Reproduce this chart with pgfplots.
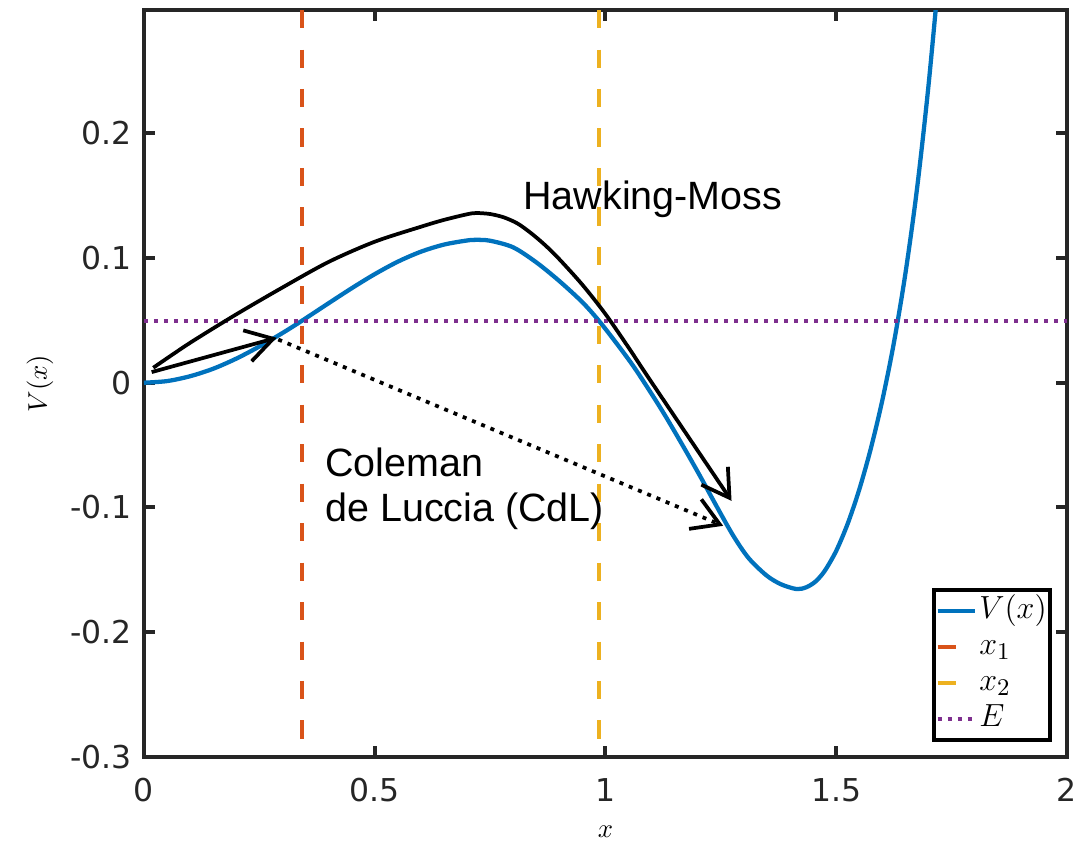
\documentclass[border=0pt]{standalone}
\usepackage{pgfplots}
\pgfplotsset{compat=1.18}
\usepackage{fontspec}
\newfontfamily\dejavu{DejaVu Sans}
\newfontfamily\arial{Liberation Sans}
\usetikzlibrary{arrows.meta}
\definecolor{mblue}{rgb}{0,0.447,0.741}
\definecolor{morange}{rgb}{0.85,0.325,0.098}
\definecolor{myellow}{rgb}{0.929,0.694,0.125}
\definecolor{mpurple}{rgb}{0.494,0.184,0.556}
\definecolor{axgray}{rgb}{0.15,0.15,0.15}
\begin{document}
\begin{tikzpicture}
\path[use as bounding box] (-54pt,-32.25pt) rectangle (351.375pt,283.875pt);
\begin{axis}[
  at={(0,0)}, anchor=south west,
  scale only axis, width=346.1pt, height=280.1pt,
  xmin=0, xmax=2, ymin=-0.3, ymax=0.2987,
  xtick={0,0.5,1,1.5,2},
  xticklabels={0,0.5,1,1.5,2},
  ytick={-0.3,-0.2,-0.1,0,0.1,0.2},
  yticklabels={-0.3,-0.2,-0.1,0,0.1,0.2},
  tick label style={font=\dejavu\fontsize{11.8}{14}\selectfont, text=axgray},
  xticklabel style={anchor=north, inner sep=0pt, yshift=-7.9pt},
  yticklabel style={anchor=east, inner sep=0pt, xshift=-4.5pt},
  axis line style={line width=1.5pt, draw=axgray},
  tick style={line width=1.5pt, draw=axgray},
  major tick length=4pt,
  tick align=inside,
  xlabel={$x$}, ylabel={$V(x)$},
  label style={font=\fontsize{13.8}{15}\selectfont, text=axgray},
  every axis x label/.style={at={(rel axis cs:0.5,0)}, anchor=center, yshift=-28pt},
  every axis y label/.style={at={(rel axis cs:0,0.5)}, xshift=-39pt, rotate=90, anchor=center},
  legend style={at={(0.984,0.02)}, anchor=south east, draw=black, line width=1.5pt, fill=white,
    font=\fontsize{12.3}{14}\selectfont, inner xsep=0.5pt, inner ysep=1.2pt, row sep=0pt,
    nodes={inner xsep=0.8pt, inner ysep=0.5pt, text height=9.2pt, text depth=3.3pt, anchor=base west}},
  legend cell align=left,
  legend image code/.code={\draw[#1] (0pt,3pt) -- (14pt,3pt);},
]
\addplot[mblue, line width=1.6pt, smooth] coordinates {
(0,0) (0.05,0.0013) (0.1,0.0052) (0.15,0.0112) (0.2,0.0193) (0.25,0.0290)
(0.3,0.0398) (0.3416,0.0495) (0.4,0.0637) (0.45,0.0757) (0.5,0.0870)
(0.55,0.0970) (0.6,0.1050) (0.65,0.1107) (0.7,0.1140) (0.72,0.1145)
(0.75,0.1138) (0.8,0.1085) (0.85,0.0965) (0.9,0.0815) (0.95,0.0645)
(0.985,0.0500) (1.02,0.0335) (1.06,0.0135) (1.10,-0.0090) (1.132,-0.0280)
(1.17,-0.0520) (1.2045,-0.0745) (1.24,-0.0985) (1.2767,-0.1225) (1.31,-0.1405)
(1.349,-0.1545) (1.38,-0.1615) (1.414,-0.1654) (1.435,-0.1640) (1.455,-0.1594)
(1.475,-0.1509) (1.5,-0.1348) (1.525,-0.1129) (1.55,-0.0856) (1.575,-0.0528)
(1.6,-0.0140) (1.625,0.0320) (1.65,0.0876) (1.675,0.1551) (1.7,0.2382) (1.725,0.337)};
\addlegendentry{$V(x)$}
\addplot[morange, line width=1.5pt, dash pattern=on 6.8pt off 8pt] coordinates {(0.3416,0.2987) (0.3416,-0.3)};
\addlegendentry{$x_1$}
\addplot[myellow, line width=1.5pt, dash pattern=on 6.8pt off 8pt] coordinates {(0.985,0.2987) (0.985,-0.3)};
\addlegendentry{$x_2$}
\addplot[mpurple, line width=1.5pt, dash pattern=on 1.5pt off 2.25pt] coordinates {(0,0.0493) (2,0.0493)};
\addlegendentry{$E$}
\addplot[black, line width=1.4pt, smooth, -{Straight Barb[length=10pt,width=12pt]}, forget plot] coordinates {
(0.0201,0.0120) (0.1,0.0320) (0.2,0.0548) (0.3,0.0763) (0.4,0.0968)
(0.5,0.1130) (0.6,0.1250) (0.65,0.1305) (0.7,0.1350) (0.72,0.1360)
(0.75,0.1352) (0.78,0.1325) (0.81,0.1275) (0.84,0.1195) (0.87,0.1100)
(0.9,0.0990) (0.95,0.0785) (1.0,0.0550) (1.05,0.0282) (1.1,0.0003)
(1.2732,-0.0947)};
\addplot[black, line width=1.4pt, -{Straight Barb[length=10pt,width=12pt]}, forget plot] coordinates {(0.0166,0.0085) (0.2875,0.036)};
\addplot[black, line width=1.4pt, dash pattern=on 1.5pt off 2.25pt, -{Straight Barb[length=10pt,width=12pt]}, forget plot] coordinates {(0.291,0.0346) (1.255,-0.1147)};
\node[font=\arial\fontsize{14.8}{17}\selectfont, anchor=base, inner sep=0pt] at (axis cs:1.1027,0.1387) {Hawking-Moss};
\node[font=\arial\fontsize{14.8}{17}\selectfont, anchor=base west, inner sep=0pt] at (axis cs:0.392,-0.075) {Coleman};
\node[font=\arial\fontsize{14.8}{17}\selectfont, anchor=base west, inner sep=0pt] at (axis cs:0.392,-0.111) {de Luccia (CdL)};
\end{axis}
\end{tikzpicture}
\end{document}
